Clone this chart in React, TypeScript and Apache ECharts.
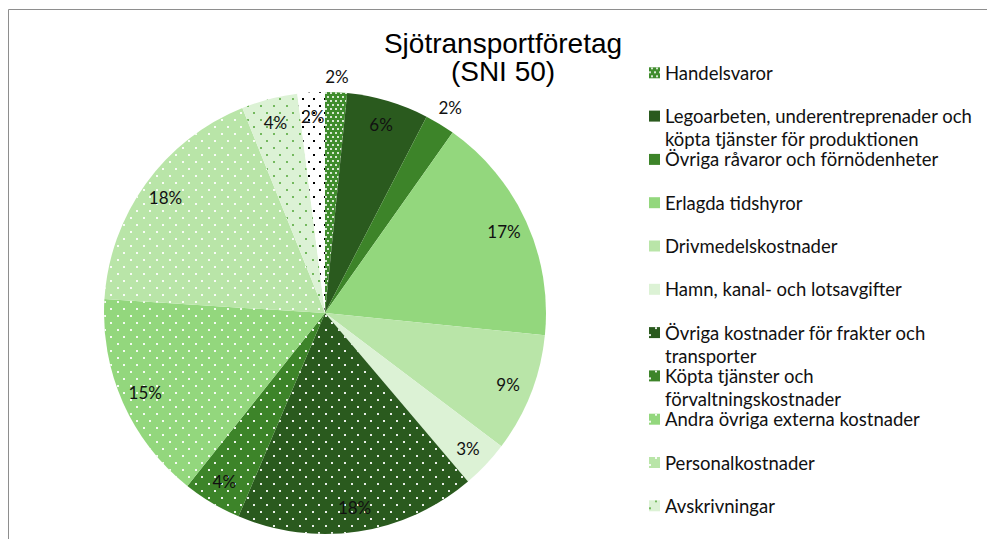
import React, { useEffect, useRef } from "react";
import * as echarts from "echarts";

// ---- data ----
const categories = [
  "Handelsvaror",
  "Legoarbeten, underentreprenader och köpta tjänster för produktionen",
  "Övriga råvaror och förnödenheter",
  "Erlagda tidshyror",
  "Drivmedelskostnader",
  "Hamn, kanal- och lotsavgifter",
  "Övriga kostnader för frakter och transporter",
  "Köpta tjänster och förvaltningskostnader",
  "Andra övriga externa kostnader",
  "Personalkostnader",
  "Avskrivningar",
  "Övrigt",
];
// shares (percent)
const values = [1.6, 6.0, 2.2, 16.8, 8.7, 3.5, 17.6, 4.3, 15.3, 17.9, 4.1, 2.0];
// data labels as printed in the chart
const pctLabels = ["2%", "6%", "2%", "17%", "9%", "3%", "18%", "4%", "15%", "18%", "4%", "2%"];
// legend shows the first 11 categories
const legendItems = categories.slice(0, 11);
const legendText: Record<string, string> = {
  "Legoarbeten, underentreprenader och köpta tjänster för produktionen":
    "\nLegoarbeten, underentreprenader och\nköpta tjänster för produktionen",
  "Övriga kostnader för frakter och transporter": "\nÖvriga kostnader för frakter och\ntransporter",
  "Köpta tjänster och förvaltningskostnader": "\nKöpta tjänster och\nförvaltningskostnader",
};

// ---- styles ----
const DARK = "#2a5a1e";
const MID = "#3d8429";
const LIGHT = "#93d77d";
const LIGHTER = "#b9e5a8";
const PALE = "#dcf2d5";

const sparse = (color: string) => ({
  symbol: "rect",
  symbolSize: 1,
  color,
  dashArrayX: [
    [1.5, 10.5],
    [0, 6, 1.5, 4.5],
  ],
  dashArrayY: [1.5, 4.5],
});

const sliceStyles: any[] = [
  {
    color: "#3f8c2c",
    decal: {
      symbol: "rect",
      symbolSize: 1,
      color: "rgba(255,255,255,0.8)",
      dashArrayX: [
        [1.5, 2.5],
        [0, 2, 1.5, 0.5],
      ],
      dashArrayY: [1.5, 1.5],
    },
  },
  { color: DARK },
  { color: MID },
  { color: LIGHT },
  { color: LIGHTER },
  { color: PALE },
  { color: DARK, decal: sparse("rgba(255,255,255,0.9)") },
  { color: MID, decal: sparse("rgba(255,255,255,0.9)") },
  { color: LIGHT, decal: sparse("rgba(255,255,255,0.9)") },
  { color: LIGHTER, decal: sparse("rgba(255,255,255,0.9)") },
  { color: PALE, decal: sparse("#74b95e") },
  {
    color: "#ffffff",
    decal: {
      symbol: "rect",
      symbolSize: 1,
      color: "#000000",
      dashArrayX: [
        [1.5, 8.5],
        [0, 5, 1.5, 3.5],
      ],
      dashArrayY: [1.5, 5],
    },
  },
];

const CX = 325;
const CY = 313;
const R = 221;
const INSIDE_F = 0.89;
const outsideF: Record<number, number> = { 0: 1.07, 2: 1.09 };

export default function App() {
  const ref = useRef<HTMLDivElement>(null);
  useEffect(() => {
    if (!ref.current) return;
    const chart = echarts.init(ref.current, undefined, { renderer: "svg" });
    const total = values.reduce((a, b) => a + b, 0);
    const cum: number[] = [];
    let acc = 0;
    values.forEach((v) => {
      cum.push(acc);
      acc += v;
    });

    const LEG_LH = 23;
    const legends = legendItems.map((name, i) => {
      const center = 72.8 + i * 43.3;
      const multi = legendText[name] !== undefined;
      const half = multi ? (LEG_LH * 3) / 2 : LEG_LH / 2;
      return {
        data: [name],
        left: 649,
        top: center - half,
        padding: 0,
        orient: "vertical",
        icon: "rect",
        itemWidth: 11,
        itemHeight: 11,
        selectedMode: false,
        formatter: (n: string) => legendText[n] ?? n,
        textStyle: {
          fontFamily: "Lato",
          fontSize: 18.5,
          color: "#111",
          lineHeight: LEG_LH,
        },
      };
    });

    chart.setOption({
      animation: false,
      backgroundColor: "#ffffff",
      legend: legends,
      graphic: [
        {
          type: "rect",
          shape: { x: 8.5, y: 9.5, width: 1200, height: 1000 },
          style: { fill: "none", stroke: "#8e8e8e", lineWidth: 1 },
          silent: true,
        },
        {
          type: "text",
          x: 503,
          y: 29,
          style: {
            text: "Sjötransportföretag\n(SNI 50)",
            font: '28px "Liberation Sans"',
            fill: "#000",
            align: "center",
            verticalAlign: "top",
            lineHeight: 28,
          },
        },
      ],
      series: [
        {
          type: "pie",
          center: [CX, CY],
          radius: [0, R],
          startAngle: 90,
          clockwise: true,
          avoidLabelOverlap: false,
          silent: true,
          emphasis: { disabled: true },
          itemStyle: { borderWidth: 0 },
          label: {
            show: true,
            position: "inside",
            formatter: (p: any) => pctLabels[p.dataIndex],
            fontFamily: "Lato",
            fontSize: 17,
            color: "#111",
          },
          labelLine: { show: false },
          labelLayout: (p: any) => {
            const i = p.dataIndex;
            const mid = ((cum[i] + values[i] / 2) / total) * Math.PI * 2;
            const f = outsideF[i] ?? INSIDE_F;
            return {
              x: CX + R * f * Math.sin(mid),
              y: CY - R * f * Math.cos(mid),
              align: "center",
              verticalAlign: "middle",
            };
          },
          data: categories.map((name, i) => ({
            name,
            value: values[i],
            itemStyle: sliceStyles[i],
          })),
        },
      ],
    });
    return () => chart.dispose();
  }, []);
  return (
    <div
      ref={ref}
      style={{ position: "fixed", left: 0, top: 0, width: 987, height: 539, background: "#fff" }}
    />
  );
}
